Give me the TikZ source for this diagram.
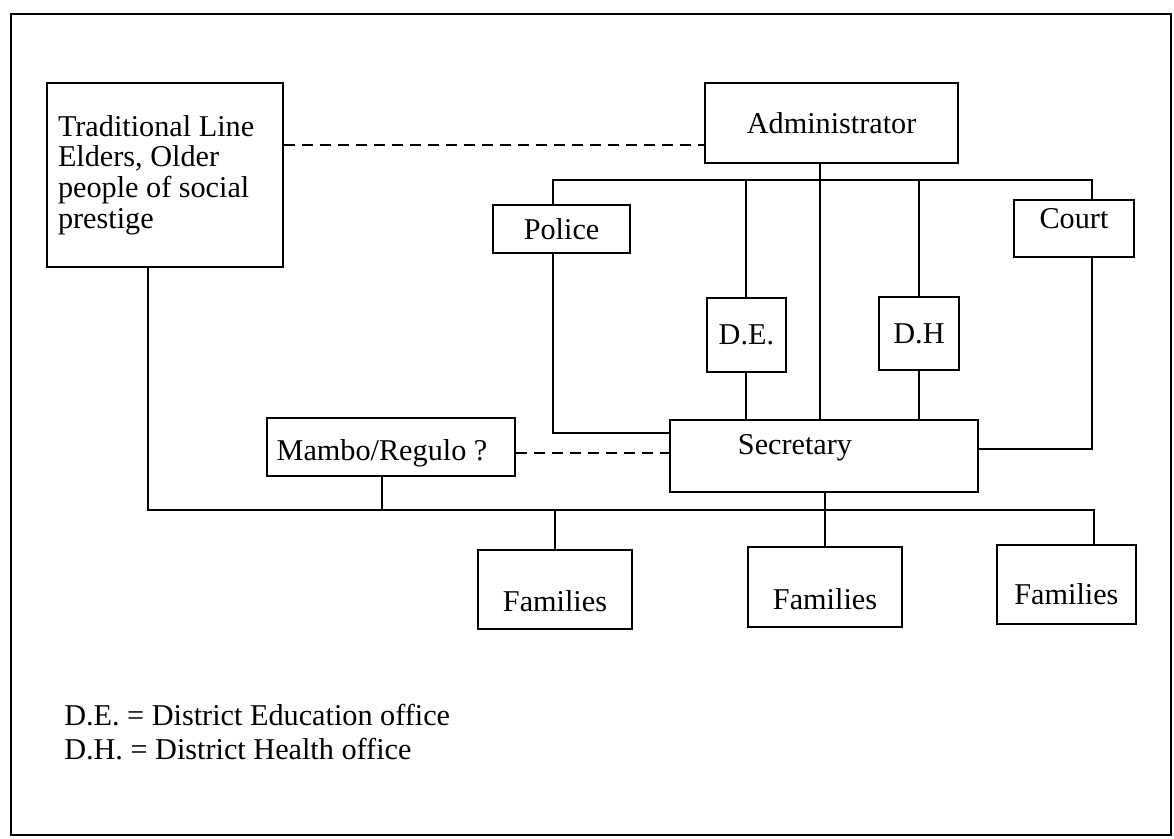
\documentclass[tikz,border=0pt]{standalone}
\usepackage{fontspec}
\setmainfont{Liberation Serif}
\usetikzlibrary{shapes,arrows}
\tikzset{
	box/.style      = {draw, rectangle, line width=1.5pt, inner sep=0pt},
	link/.style     = {line width=1.4pt},
	dashline/.style = {line width=1.5pt, dash pattern=on 0.27cm off 0.18cm}, % dotted links
	frame/.style    = {line width=1.5pt}
}

\begin{document}
\begin{tikzpicture}[auto, font=\fontsize{21.5}{21.8}\selectfont]
	\useasboundingbox (0,0) rectangle (29.35,-20.95);
	\draw[frame] (0.28,-0.35) rectangle (29.27,-20.87);

	\coordinate (dsh1) at (0,-3.625);
	\coordinate (dsh2) at (0,-11.325);
	\coordinate (tb) at (0,-4.5);
	\coordinate (bb) at (0,-12.75);

	\draw
	node at (4.125,-4.375) [box, text width=5.35cm, inner xsep=0.275cm, minimum height=4.6cm, align=flush left] (trad) {Traditional Line\\Elders, Older\\people of social\\prestige}
	node at (20.79,-3.075) [box, minimum width=6.325cm, minimum height=2cm] (admin) {Administrator}
	node at (14.04,-5.725) [box, minimum width=3.425cm, minimum height=1.2cm] (police) {Police}
	node at (26.85,-5.71) [box, minimum width=3cm, minimum height=1.425cm] (court) {\raisebox{0.25cm}[\height][\depth]{Court}}
	node at (18.66,-8.375) [box, minimum width=1.975cm, minimum height=1.85cm] (de) {D.E.}
	node at (22.975,-8.34) [box, minimum width=2cm, minimum height=1.825cm] (dh) {D.H}
	node at (20.6,-11.4) [box, minimum width=7.7cm, minimum height=1.8cm] (sec) {\raisebox{0.2cm}[\height][\depth]{Secretary}\hspace*{1.45cm}}
	node at (9.775,-11.175) [box, minimum width=6.2cm, minimum height=1.45cm] (mambo) {\raisebox{-0.15cm}[\height][\depth]{Mambo/Regulo ?}\hspace*{0.45cm}}
	node at (13.875,-14.74) [box, minimum width=3.85cm, minimum height=1.975cm] (f1) {\raisebox{-0.3cm}[\height][\depth]{Families}}
	node at (20.625,-14.675) [box, minimum width=3.85cm, minimum height=2cm] (f2) {\raisebox{-0.3cm}[\height][\depth]{Families}}
	node at (26.66,-14.61) [box, minimum width=3.475cm, minimum height=1.975cm] (f3) {\raisebox{-0.25cm}[\height][\depth]{Families}}
	node at (1.6,-18.3) [anchor=west, align=left, inner sep=0pt] (legend) {D.E. = District Education office\\[1.8pt]D.H. = District Health office};

	\draw[dashline](trad.east |- dsh1)--(admin.west |- dsh1);
	\draw[dashline](mambo.east |- dsh2)--(sec.west |- dsh2);

	\draw[link]([xshift=-0.21cm]police.north) |- ([xshift=0.45cm]court.north |- tb)--([xshift=0.45cm]court.north);
	\draw[link](de.north)--(de.north |- tb);
	\draw[link](dh.north)--(dh.north |- tb);
	\draw[link]([xshift=-0.3cm]admin.south)--([xshift=-0.3cm]admin.south |- sec.north);
	\draw[link](de.south)--(de.south |- sec.north);
	\draw[link](dh.south)--(dh.south |- sec.north);
	\draw[link]([xshift=-0.21cm]police.south) |- ([yshift=0.575cm]sec.west);
	\draw[link]([xshift=0.45cm]court.south) |- ([yshift=0.175cm]sec.east);

	\draw[link]([xshift=-0.425cm]trad.south) |- (f2.north |- bb);
	\draw[link]([xshift=-0.225cm]mambo.south)--([xshift=-0.225cm]mambo.south |- bb);
	\draw[link](f2.north |- sec.south)--(f2.north);
	\draw[link](f2.north |- bb) -| ([xshift=0.7cm]f3.north);
	\draw[link](f1.north)--(f1.north |- bb);
\end{tikzpicture}
\end{document}
